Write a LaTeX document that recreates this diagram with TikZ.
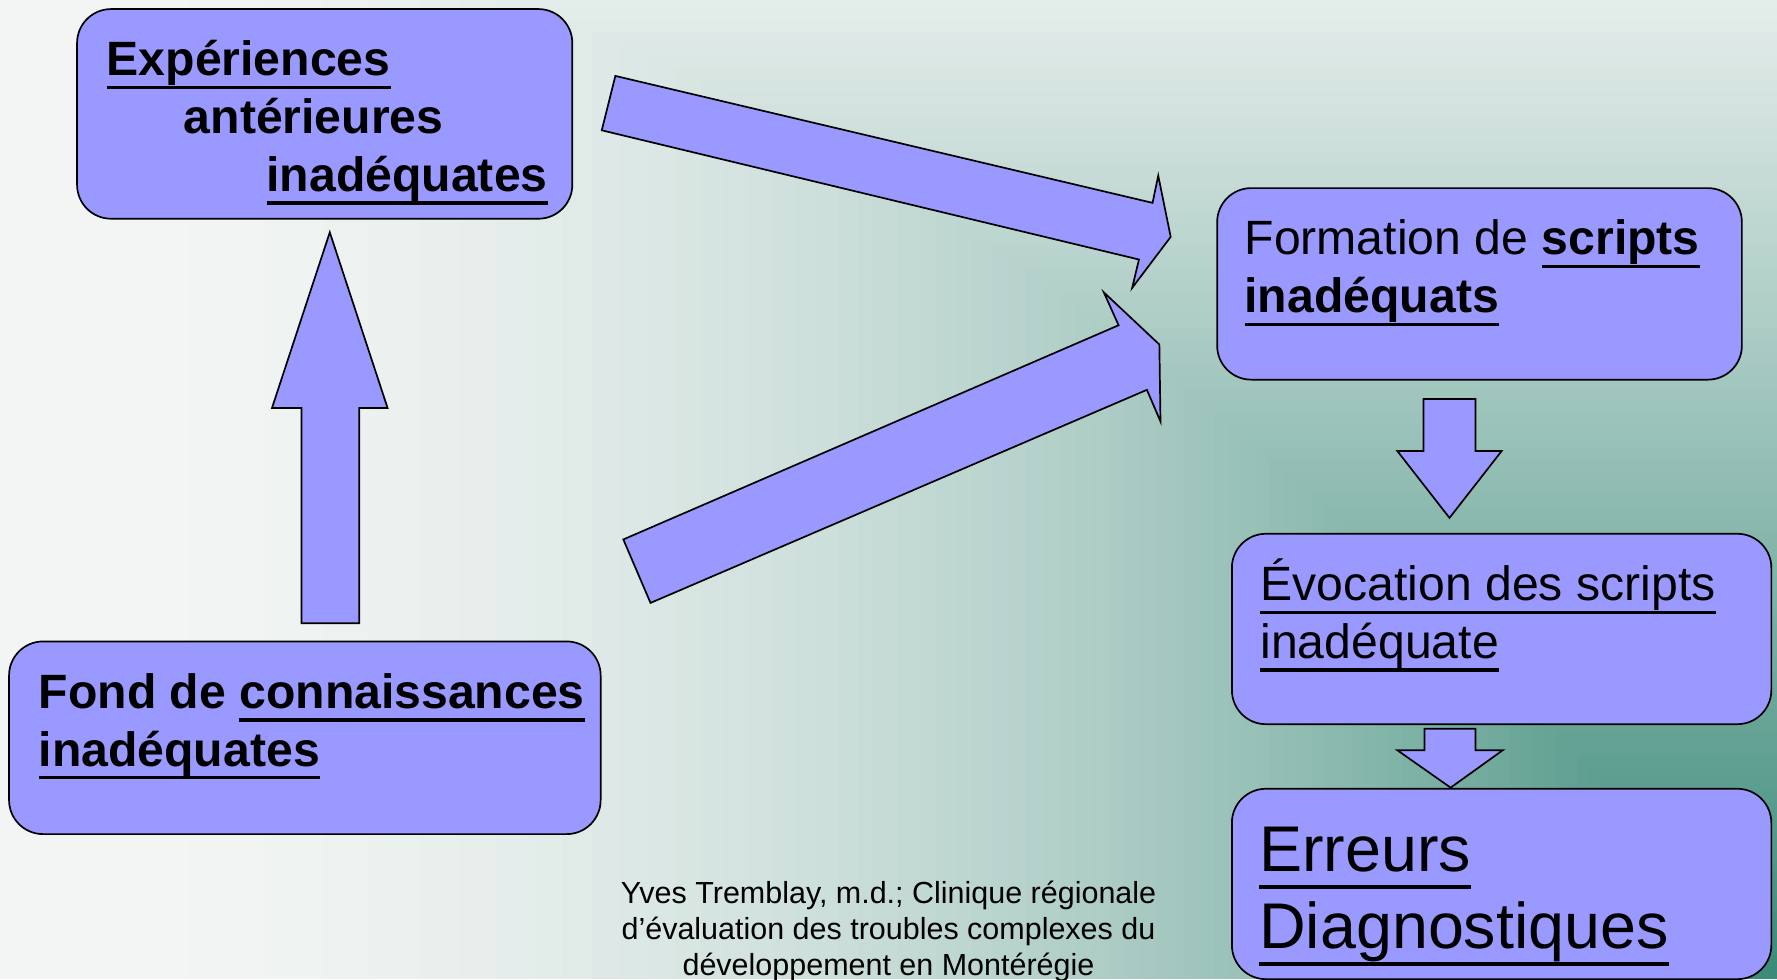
\documentclass[tikz,border=0pt]{standalone}
\usepackage{fontspec}
\setmainfont{Liberation Sans}
\definecolor{boxfill}{HTML}{9999FF}
\definecolor{bgLight}{HTML}{F4F6F5}
\definecolor{bgDark}{HTML}{3A8A78}
\newcommand\ulx[1]{\setbox0\hbox{#1}\rlap{\rule[-0.275em]{\wd0}{0.07em}}\box0}
\begin{document}
\begin{tikzpicture}[x=1pt,y=-1pt,
  box/.style={draw=black, line width=1.5pt, fill=boxfill, rounded corners=30pt, anchor=north west, inner sep=0pt, outer sep=0pt},
  blockarrow/.style={draw=black, line width=1.5pt, fill=boxfill, line join=miter},
  txt/.style={anchor=base west, inner sep=0pt, font=\fontsize{42.5}{51}\selectfont},
  btxt/.style={txt, font=\fontsize{42.5}{51}\selectfont\bfseries},
  bigtxt/.style={anchor=base west, inner sep=0pt, font=\fontsize{57}{68}\selectfont},
  foot/.style={anchor=base, inner sep=0pt, font=\fontsize{26.9}{32}\selectfont}]
\useasboundingbox (0,0) rectangle (1568,864);
% background: rectangular gradient from the lower right corner
\foreach \i in {0,...,89}{
  \pgfmathsetmacro\xx{1568*sqrt(\i/90)}
  \pgfmathsetmacro\yy{864*max(0,(\i/90-0.08)/0.92)}
  \pgfmathsetmacro\pct{100*(\i+0.5)/90}
  \fill[bgDark!\pct!bgLight] (\xx,\yy) rectangle (1568,864);
}

% block arrows
\draw[blockarrow] (266,550) -- (266,360) -- (240,360) -- (291,205) -- (342,360) -- (317,360) -- (317,550) -- cycle;
\draw[blockarrow] (543,67) -- (1017,179) -- (1022,155) -- (1033,209) -- (999,254) -- (1005,229) -- (531,115) -- cycle;
\draw[blockarrow] (550,476) -- (987,287) -- (974,258) -- (1023,304) -- (1024,372) -- (1012,344) -- (574,532) -- cycle;
\draw[blockarrow] (1256,352) -- (1302,352) -- (1302,398) -- (1325,398) -- (1279,457) -- (1233,398) -- (1256,398) -- cycle;
\draw[blockarrow] (1257,643) -- (1302,643) -- (1302,662) -- (1326,662) -- (1280,695) -- (1233,662) -- (1257,662) -- cycle;

% boxes
\node[box, minimum width=437pt, minimum height=185pt] (exp) at (68,8) {};
\node[box, minimum width=522pt, minimum height=170pt] (fond) at (8,566) {};
\node[box, minimum width=463pt, minimum height=169pt] (form) at (1074,166) {};
\node[box, minimum width=476pt, minimum height=168pt] (evoc) at (1087,471) {};
\node[box, minimum width=476pt, minimum height=168pt] (err) at (1087,696) {};

% texts
\node[btxt] (exp1) at (94,67) {\ulx{Expériences}};
\node[btxt] (exp2) at (162,118) {antérieures};
\node[btxt] (exp3) at (235,169) {\ulx{inadéquates}};

\node[btxt] (fond1) at (34,625) {Fond de \ulx{connaissances}};
\node[btxt] (fond2) at (34,676) {\ulx{inadéquates}};

\node[txt] (form1) at (1098,225) {Formation de \ulx{\bfseries scripts}};
\node[btxt] (form2) at (1098,276) {\ulx{inadéquats}};

\node[txt] (evoc1) at (1112,530) {\ulx{Évocation des scripts}};
\node[txt] (evoc2) at (1112,581) {\ulx{inadéquate}};

\node[bigtxt] (err1) at (1111,769) {\ulx{Erreurs}};
\node[bigtxt] (err2) at (1111,837) {\ulx{Diagnostiques}};

\node[foot] (f1) at (784,797) {Yves Tremblay, m.d.; Clinique régionale};
\node[foot] (f2) at (784,829) {d’évaluation des troubles complexes du};
\node[foot] (f3) at (784,861) {développement en Montérégie};
\end{tikzpicture}
\end{document}
